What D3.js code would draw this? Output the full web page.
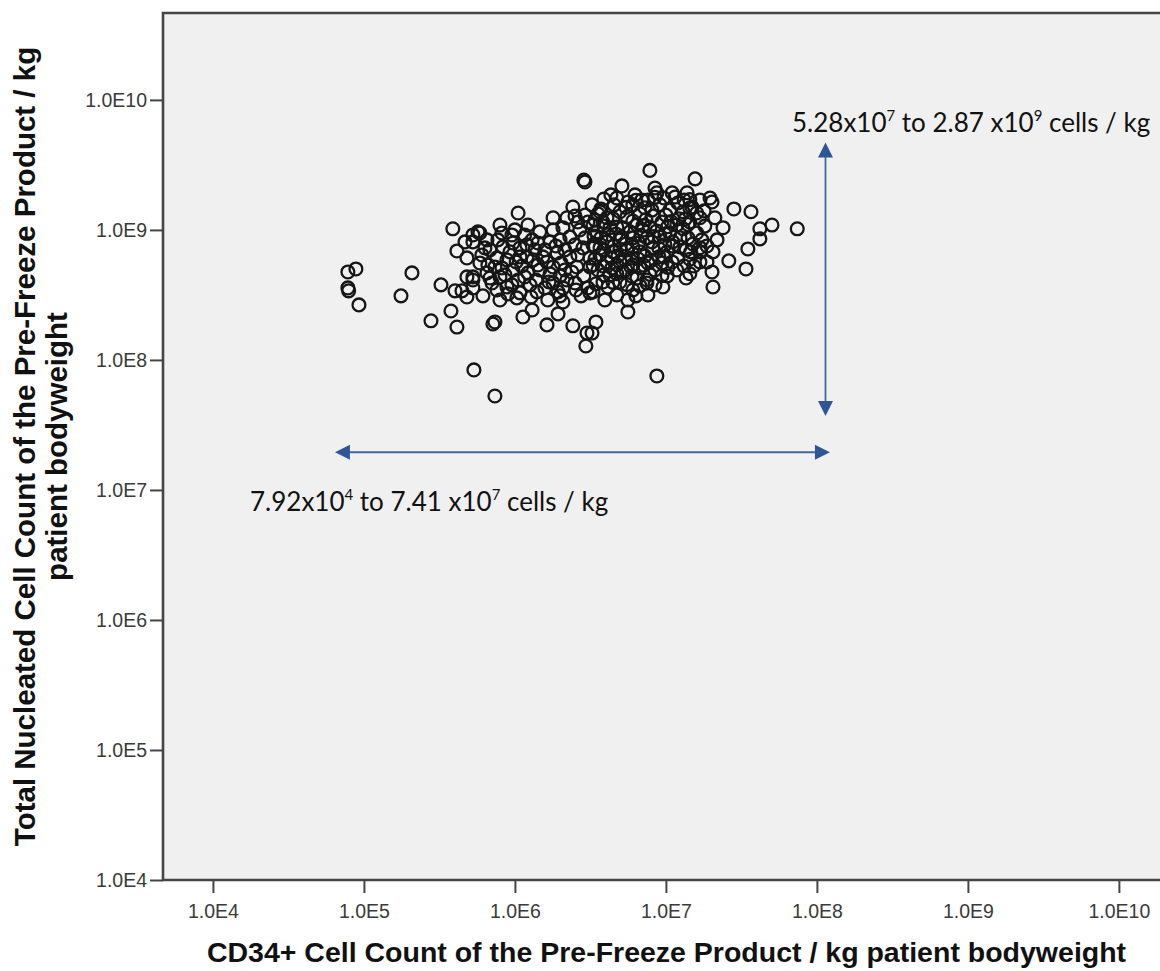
<!DOCTYPE html>
<html>
<head>
<meta charset="utf-8">
<script src="https://cdn.jsdelivr.net/npm/d3@7/dist/d3.min.js"></script>
<style>
  html, body { margin: 0; padding: 0; background: #ffffff; }
  svg { display: block; }
</style>
</head>
<body>
<svg id="chart" width="1160" height="971"></svg>
<script>
// CD34+ cells per kg of the pre-freeze product (x) and total nucleated cells per kg (y), one entry per product
const cd34 = [
  7.83e4, 8.85e4, 7.83e4, 7.92e4, 9.27e4, 1.76e5, 2.08e5, 2.78e5, 3.24e5, 3.77e5,
  4.13e5, 3.88e5, 4.13e5, 4.67e5, 4.81e5, 4.01e5, 4.46e5, 4.81e5, 4.81e5, 5.27e5,
  5.69e5, 5.27e5, 5.35e5, 7.37e5, 5.27e5, 6.14e5, 2.86e6, 1.05e6, 5.86e5, 7.96e5,
  8.20e5, 1.00e6, 1.16e6, 1.79e6, 2.21e6, 2.42e6, 3.24e6, 1.79e6, 5.27e5, 6.04e5,
  6.83e5, 8.33e5, 9.70e5, 1.20e6, 1.42e6, 1.71e6, 1.99e6, 2.31e6, 2.69e6, 5.86e5,
  7.37e5, 8.85e5, 1.08e6, 1.32e6, 1.53e6, 1.90e6, 2.31e6, 2.82e6, 3.39e6, 5.27e5,
  6.53e5, 7.96e5, 9.70e5, 1.22e6, 1.46e6, 1.79e6, 2.14e6, 2.57e6, 3.14e6, 7.60e5,
  8.85e5, 1.08e6, 1.40e6, 1.79e6, 2.21e6, 3.04e6, 3.14e6, 7.96e5, 1.03e6, 1.65e6,
  2.08e6, 1.30e6, 1.13e6, 1.93e6, 7.37e5, 7.15e5, 1.63e6, 2.42e6, 3.00e6, 3.44e6,
  2.95e6, 7.83e6, 1.56e7, 4.32e6, 5.11e6, 6.24e6, 8.46e6, 8.71e6, 1.10e7, 1.38e7,
  1.68e7, 4.07e6, 4.96e6, 6.04e6, 7.26e6, 9.12e6, 1.06e7, 1.30e7, 1.60e7, 3.49e6,
  4.26e6, 5.19e6, 6.43e6, 7.83e6, 9.41e6, 1.18e7, 1.60e7, 3.29e6, 4.07e6, 4.96e6,
  6.04e6, 7.48e6, 9.12e6, 1.11e7, 1.40e7, 3.66e6, 4.46e6, 5.52e6, 6.73e6, 8.20e6,
  1.02e7, 1.20e7, 1.68e7, 3.29e6, 4.07e6, 4.96e6, 6.04e6, 7.60e6, 9.41e6, 4.26e6,
  5.19e6, 6.43e6, 7.48e6, 1.02e7, 1.36e7, 3.29e6, 4.13e6, 4.73e6, 6.04e6, 5.60e6,
  5.60e6, 3.24e6, 8.71e6, 2.82e7, 3.66e7, 5.04e7, 7.41e7, 4.19e7, 4.19e7, 3.49e7,
  2.61e7, 3.39e7, 2.05e7, 2.02e7, 2.02e7, 1.96e7, 2.11e7, 2.39e7, 2.18e7, 1.68e7,
  1.73e7, 2.05e7, 1.68e7, 1.87e7, 2.91e6, 3.66e6, 4.53e6, 5.52e6, 6.73e6, 8.20e6,
  1.00e7, 1.22e7, 1.44e7, 3.83e6, 4.67e6, 5.78e6, 7.05e6, 8.71e6, 1.06e7, 1.30e7,
  1.51e7, 3.71e6, 4.53e6, 5.43e6, 6.62e6, 8.08e6, 9.85e6, 1.24e7, 1.46e7, 3.88e6,
  4.81e6, 5.96e6, 7.26e6, 8.99e6, 1.10e7, 1.32e7, 3.55e6, 4.39e6, 5.43e6, 6.73e6,
  8.46e6, 1.18e7, 3.83e6, 4.96e6, 6.73e6, 8.46e6, 4.73e6, 5.60e6, 6.93e6, 9.70e6,
  1.20e7, 1.49e7, 1.81e7, 1.87e7, 1.53e7, 9.55e6, 7.60e6, 6.33e6, 3.94e6, 7.60e6,
  1.32e7, 1.15e7, 6.53e5, 7.60e5, 9.27e5, 1.11e6, 1.36e6, 1.63e6, 2.02e6, 2.50e6,
  2.91e6, 7.05e5, 8.59e5, 1.05e6, 1.26e6, 1.58e6, 1.93e6, 2.50e6, 2.74e6, 9.55e5,
  1.46e6, 2.08e6, 3.04e6, 3.55e6, 1.22e6, 2.50e6, 2.91e6, 3.29e6, 2.61e6,
  3.88e6, 6.33e6, 8.46e6, 1.44e7, 3.71e6, 5.43e6, 8.08e6, 1.44e7, 1.79e7, 3.39e6,
  4.46e6, 6.04e6, 7.37e6, 1.08e7, 1.34e7, 3.88e6, 4.73e6, 7.05e6, 1.03e7, 1.40e7,
  3.34e6, 4.13e6, 5.11e6, 6.83e6, 8.33e6, 9.85e6, 1.24e7, 3.66e6, 4.96e6, 6.04e6,
  8.99e6, 1.11e7, 1.36e7, 1.68e7, 3.39e6, 4.32e6, 5.35e6, 6.53e6, 7.96e6, 9.70e6,
  1.44e7, 3.83e6, 4.73e6, 5.86e6, 7.15e6, 1.03e7, 3.88e6, 4.73e6, 5.96e6, 7.83e6,
  9.41e6, 1.44e7, 3.44e6, 4.46e6, 5.52e6, 7.48e6,
  6.33e5, 7.71e5, 1.08e6, 1.30e6, 1.58e6, 1.87e6, 2.14e6, 2.61e6, 3.14e6, 6.62e5,
  8.20e5, 1.02e6, 1.20e6, 1.42e6, 1.71e6, 1.99e6, 2.38e6, 2.86e6, 6.83e5, 9.55e5,
  1.16e6, 1.38e6, 1.68e6, 2.08e6, 2.54e6, 8.99e5, 1.28e6, 1.99e6
];
const tnc = [
  4.75e8, 5.01e8, 3.58e8, 3.40e8, 2.65e8, 3.11e8, 4.67e8, 2.00e8, 3.78e8, 2.38e8,
  1.79e8, 1.02e9, 6.89e8, 8.09e8, 6.09e8, 3.40e8, 3.40e8, 4.35e8, 3.05e8, 9.15e8,
  9.66e8, 3.58e8, 8.38e7, 5.28e7, 4.12e8, 3.11e8, 2.42e9, 1.35e9, 9.48e8, 1.09e9,
  9.48e8, 1.00e9, 9.15e8, 1.24e9, 1.24e9, 1.50e9, 1.56e9, 1.00e9, 8.09e8, 6.42e8,
  7.02e8, 7.40e8, 7.94e8, 7.67e8, 7.94e8, 8.09e8, 8.38e8, 8.84e8, 1.00e9, 5.57e8,
  5.19e8, 5.88e8, 6.20e8, 5.88e8, 6.20e8, 6.65e8, 6.20e8, 7.27e8, 7.40e8, 4.35e8,
  4.67e8, 4.35e8, 4.92e8, 4.67e8, 4.92e8, 5.19e8, 4.92e8, 5.19e8, 5.19e8, 3.45e8,
  3.64e8, 3.28e8, 3.34e8, 3.91e8, 4.12e8, 3.58e8, 3.28e8, 2.89e8, 3.00e8, 2.89e8,
  2.79e8, 2.42e8, 2.14e8, 2.26e8, 1.96e8, 1.89e8, 1.86e8, 1.83e8, 1.61e8, 1.96e8,
  1.28e8, 2.87e9, 2.47e9, 1.86e9, 2.18e9, 1.86e9, 2.10e9, 1.93e9, 1.93e9, 1.93e9,
  1.70e9, 1.24e9, 1.38e9, 1.56e9, 1.48e9, 1.56e9, 1.42e9, 1.38e9, 1.35e9, 9.66e8,
  1.04e9, 1.04e9, 1.09e9, 1.05e9, 1.15e9, 1.09e9, 9.48e8, 7.67e8, 8.09e8, 8.38e8,
  8.68e8, 8.68e8, 8.84e8, 8.09e8, 8.68e8, 6.42e8, 6.78e8, 7.02e8, 6.78e8, 7.27e8,
  6.78e8, 6.09e8, 5.67e8, 5.38e8, 5.67e8, 5.67e8, 5.38e8, 5.57e8, 5.57e8, 4.51e8,
  4.75e8, 4.27e8, 4.12e8, 4.43e8, 4.27e8, 3.34e8, 3.64e8, 3.16e8, 3.45e8, 2.89e8,
  2.34e8, 1.61e8, 7.53e7, 1.45e9, 1.38e9, 1.09e9, 1.02e9, 1.02e9, 8.53e8, 7.14e8,
  5.78e8, 5.01e8, 3.64e8, 4.75e8, 1.64e9, 1.76e9, 1.24e9, 1.04e9, 8.38e8, 1.24e9,
  8.38e8, 6.78e8, 6.78e8, 5.67e8, 2.34e9, 1.38e9, 1.56e9, 1.26e9, 1.33e9, 1.28e9,
  1.30e9, 1.22e9, 1.15e9, 1.15e9, 9.31e8, 9.66e8, 1.00e9, 9.82e8, 9.48e8, 1.02e9,
  7.80e8, 8.68e8, 7.53e8, 7.80e8, 7.94e8, 8.09e8, 7.67e8, 7.40e8, 6.78e8, 7.02e8,
  6.31e8, 6.09e8, 6.31e8, 6.20e8, 5.67e8, 5.28e8, 4.92e8, 5.10e8, 4.92e8, 5.10e8,
  4.92e8, 4.92e8, 3.98e8, 3.98e8, 3.71e8, 3.78e8, 1.76e9, 1.64e9, 1.70e9, 1.76e9,
  1.61e9, 1.50e9, 1.07e9, 7.53e8, 5.28e8, 3.64e8, 3.16e8, 3.11e8, 2.89e8, 1.70e9,
  1.70e9, 1.79e9, 8.38e8, 6.09e8, 6.78e8, 5.28e8, 7.02e8, 5.67e8, 5.57e8, 7.67e8,
  8.68e8, 3.91e8, 4.51e8, 4.12e8, 3.78e8, 3.58e8, 3.34e8, 3.91e8, 3.11e8, 9.15e8,
  9.66e8, 1.04e9, 1.15e9, 1.33e9, 1.09e9, 1.28e9, 1.30e9, 1.09e9, 1.15e9,
  1.73e9, 1.69e9, 1.78e9, 1.71e9, 1.45e9, 1.49e9, 1.42e9, 1.47e9, 1.40e9, 1.19e9,
  1.22e9, 1.17e9, 1.20e9, 1.16e9, 1.21e9, 1.07e9, 1.05e9, 1.08e9, 1.06e9, 1.10e9,
  8.99e8, 9.20e8, 8.80e8, 9.10e8, 8.90e8, 9.30e8, 8.70e8, 7.27e8, 7.10e8, 7.40e8,
  7.20e8, 7.50e8, 7.00e8, 7.30e8, 5.98e8, 6.10e8, 5.90e8, 6.00e8, 5.80e8, 6.20e8,
  5.95e8, 5.28e8, 5.40e8, 5.20e8, 5.35e8, 5.15e8, 4.51e8, 4.60e8, 4.40e8, 4.55e8,
  4.45e8, 4.60e8, 3.85e8, 3.95e8, 3.80e8, 3.90e8,
  7.27e8, 8.38e8, 7.27e8, 8.38e8, 7.02e8, 7.53e8, 7.02e8, 6.42e8, 6.09e8, 5.38e8,
  5.10e8, 5.67e8, 6.20e8, 5.38e8, 4.59e8, 4.43e8, 4.75e8, 4.43e8, 4.27e8, 3.78e8,
  4.35e8, 4.12e8, 3.98e8, 3.58e8, 3.45e8, 3.22e8, 3.05e8, 3.11e8
];

// Axis ticks (powers of ten) and the visible axis extents
const xTicks = [1e4, 1e5, 1e6, 1e7, 1e8, 1e9, 1e10];
const yTicks = [1e4, 1e5, 1e6, 1e7, 1e8, 1e9, 1e10];
const xDomain = [4.67e3, 2.18e10];
const yDomain = [1e4, 4.66e10];

// Axis titles and range annotations
const xTitle = "CD34+ Cell Count of the Pre-Freeze Product / kg patient bodyweight";
const yTitleLines = ["Total Nucleated Cell Count of the Pre-Freeze Product / kg", "patient bodyweight"];
const tncRange = ["5.28", "7", "2.87", "9"];
const cd34Range = ["7.92", "4", "7.41", "7"];

const svg = d3.select("#chart");
const plot = { left: 163, top: 13, right: 1170, bottom: 880 };

const x = d3.scaleLog().domain(xDomain).range([plot.left, plot.right]);
const y = d3.scaleLog().domain(yDomain).range([plot.bottom, plot.top]);

const sci = v => "1.0E" + Math.round(Math.log10(v));
const axisFont = "'Liberation Sans', Arial, sans-serif";
const noteFont = "Lato, 'Open Sans', sans-serif";
const arrowBlue = "#2F5597";

// plot background
svg.append("rect")
  .attr("x", plot.left).attr("y", plot.top)
  .attr("width", plot.right - plot.left).attr("height", plot.bottom - plot.top)
  .attr("fill", "#f0f0f0");

// range arrows
function arrow(x1, y1, x2, y2) {
  const g = svg.append("g");
  const ang = Math.atan2(y2 - y1, x2 - x1);
  const head = 15, half = 7.5;
  g.append("line")
    .attr("x1", x1 + Math.cos(ang) * head * 0.8).attr("y1", y1 + Math.sin(ang) * head * 0.8)
    .attr("x2", x2 - Math.cos(ang) * head * 0.8).attr("y2", y2 - Math.sin(ang) * head * 0.8)
    .attr("stroke", "#3d67ad").attr("stroke-width", 1.8);
  [[x1, y1, ang], [x2, y2, ang + Math.PI]].forEach(([tx, ty, a]) => {
    const bx = tx + Math.cos(a) * head, by = ty + Math.sin(a) * head;
    const px = -Math.sin(a) * half, py = Math.cos(a) * half;
    g.append("path")
      .attr("d", `M${tx},${ty}L${bx + px},${by + py}L${bx - px},${by - py}Z`)
      .attr("fill", arrowBlue);
  });
}
arrow(x(1.14e8), y(4.7e9), x(1.14e8), y(3.7e7));
arrow(x(6.43e4), y(1.95e7), x(1.22e8), y(1.95e7));

// range labels with superscript exponents
function rangeLabel(px, py, parts) {
  const t = svg.append("text")
    .attr("x", px).attr("y", py)
    .attr("font-family", noteFont).attr("font-size", 26)
    .attr("fill", "#111");
  t.append("tspan").text(parts[0] + "x10");
  t.append("tspan").attr("dy", -11).attr("font-size", 15).text(parts[1]);
  t.append("tspan").attr("dy", 11).text(" to " + parts[2] + " x10");
  t.append("tspan").attr("dy", -11).attr("font-size", 15).text(parts[3]);
  t.append("tspan").attr("dy", 11).text(" cells / kg");
}
rangeLabel(792, 132, tncRange);
rangeLabel(250, 511, cd34Range);

// scatter points
svg.append("g")
  .selectAll("circle")
  .data(d3.zip(cd34, tnc))
  .join("circle")
  .attr("cx", d => x(d[0]))
  .attr("cy", d => y(d[1]))
  .attr("r", 6.4)
  .attr("fill", "none")
  .attr("stroke", "#161616")
  .attr("stroke-width", 2.3);

// frame: left, top and bottom edges
svg.append("path")
  .attr("d", `M${plot.right},${plot.top}H${plot.left}V${plot.bottom}H${plot.right}`)
  .attr("fill", "none").attr("stroke", "#454545").attr("stroke-width", 2.6);

// axes
const yAxis = svg.append("g")
  .attr("transform", `translate(${plot.left},0)`)
  .call(d3.axisLeft(y).tickValues(yTicks).tickFormat(sci).tickSize(13).tickPadding(3));
const xAxis = svg.append("g")
  .attr("transform", `translate(0,${plot.bottom})`)
  .call(d3.axisBottom(x).tickValues(xTicks).tickFormat(sci).tickSize(13).tickPadding(11));
[yAxis, xAxis].forEach(a => {
  a.select(".domain").remove();
  a.selectAll(".tick line").attr("stroke", "#454545").attr("stroke-width", 2);
  a.selectAll(".tick text")
    .attr("font-family", axisFont).attr("font-size", 19.5).attr("fill", "#3a3a3a");
});

// axis titles
svg.append("text")
  .attr("x", (plot.left + plot.right) / 2).attr("y", 962)
  .attr("text-anchor", "middle")
  .attr("font-family", axisFont).attr("font-weight", "bold").attr("font-size", 28.5)
  .attr("fill", "#111")
  .text(xTitle);

const yt = svg.append("text")
  .attr("transform", `translate(0,${(plot.top + plot.bottom) / 2}) rotate(-90)`)
  .attr("text-anchor", "middle")
  .attr("font-family", axisFont).attr("font-weight", "bold").attr("font-size", 29.5)
  .attr("fill", "#111");
yTitleLines.forEach((line, i) => {
  yt.append("tspan").attr("x", 0).attr("y", 35 + i * 32).text(line);
});
</script>
</body>
</html>
